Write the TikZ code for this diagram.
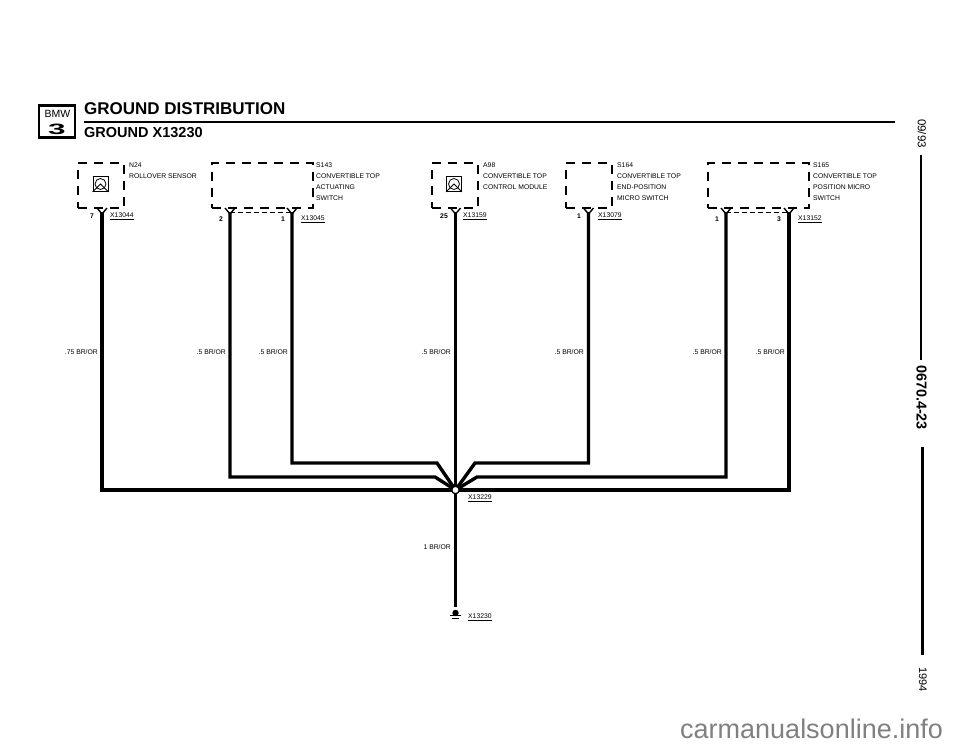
\documentclass[tikz,border=0pt]{standalone}
\usepackage{fontspec}
\setmainfont{Liberation Sans}
\tikzset{
	wire/.style={line width=3.4pt, line join=miter},
	thinwire/.style={line width=.8pt, dash pattern=on 5pt off 3pt},
	compbox/.style={draw, line width=1.6pt, dash pattern=on 9pt off 7pt, inner sep=0pt},
	lab/.style={anchor=west, inner sep=0pt, font=\fontsize{6.8}{8}\selectfont},
	gauge/.style={anchor=east, inner sep=0pt, font=\fontsize{6.8}{8}\selectfont},
	pinno/.style={inner sep=0pt, font=\fontsize{6.8}{8}\bfseries\selectfont},
	pinmark/.pic={\draw[line width=1.4pt] (-5,-4) -- (0,2) -- (5,-4);}
}
\begin{document}
\begin{tikzpicture}[x=1pt, y=-1pt]
	
	\useasboundingbox (0,0) rectangle (960,744);
	
	% header
	\node [draw, line width=2.6pt, minimum width=36pt, minimum height=32pt, inner sep=0pt] (logo) at (57,121.5) {};
	\node [inner sep=0pt, font=\fontsize{10.5}{10}\selectfont] (bmw) at (57.5,113.5) {BMW};
	\node [inner sep=0pt, xscale=2.1, font=\fontsize{15}{15}\bfseries\selectfont] (series) at (57,129.5) {3};
	\node [anchor=west, inner sep=0pt, font=\fontsize{17}{17}\bfseries\selectfont] (title) at (84,109) {GROUND DISTRIBUTION};
	\node [anchor=west, inner sep=0pt, font=\fontsize{14.5}{14}\bfseries\selectfont] (subtitle) at (84,133) {GROUND X13230};
	\coordinate (rulea) at (84,122);
	\coordinate (ruleb) at (895,122);
	\draw [line width=2.6pt] (rulea) -- (ruleb);
	
	% components
	\node [compbox, minimum width=46pt, minimum height=45pt] (n24) at (101,185.5) {};
	\node [compbox, minimum width=101pt, minimum height=45pt] (s143) at (262.5,185.5) {};
	\node [compbox, minimum width=46pt, minimum height=45pt] (a98) at (455,185.5) {};
	\node [compbox, minimum width=46pt, minimum height=45pt] (s164) at (589,185.5) {};
	\node [compbox, minimum width=101pt, minimum height=45pt] (s165) at (758.5,185.5) {};
	
	\node [draw, line width=.8pt, minimum size=15pt, inner sep=0pt] (icona) at (100.5,184) {};
	\draw [line width=.8pt] (icona) circle (5.5pt);
	\draw [line width=.8pt] (icona.south west) -- (icona.center) -- (icona.south east);
	\node [draw, line width=.8pt, minimum size=15pt, inner sep=0pt] (iconb) at (454,184) {};
	\draw [line width=.8pt] (iconb) circle (5.5pt);
	\draw [line width=.8pt] (iconb.south west) -- (iconb.center) -- (iconb.south east);
	
	\node [lab] (n24a) at (129,165.5) {N24};
	\node [lab] (n24b) at (129,176) {ROLLOVER SENSOR};
	
	\node [lab] (s143a) at (316,165.5) {S143};
	\node [lab] (s143b) at (316,176) {CONVERTIBLE TOP};
	\node [lab] (s143c) at (316,187) {ACTUATING};
	\node [lab] (s143d) at (316,198) {SWITCH};
	
	\node [lab] (a98a) at (483,165.5) {A98};
	\node [lab] (a98b) at (483,176) {CONVERTIBLE TOP};
	\node [lab] (a98c) at (483,187) {CONTROL MODULE};
	
	\node [lab] (s164a) at (617,165.5) {S164};
	\node [lab] (s164b) at (617,176) {CONVERTIBLE TOP};
	\node [lab] (s164c) at (617,187) {END-POSITION};
	\node [lab] (s164d) at (617,198) {MICRO SWITCH};
	
	\node [lab] (s165a) at (813,165.5) {S165};
	\node [lab] (s165b) at (813,176) {CONVERTIBLE TOP};
	\node [lab] (s165c) at (813,187) {POSITION MICRO};
	\node [lab] (s165d) at (813,198) {SWITCH};
	
	% pins
	\coordinate (pa) at (102,212);
	\coordinate (pb) at (230,212);
	\coordinate (pc) at (292,212);
	\coordinate (pd) at (455.5,212);
	\coordinate (pe) at (588.5,212);
	\coordinate (pf) at (726,212);
	\coordinate (pg) at (789,212);
	
	\pic at (pa) {pinmark};
	\pic at (pb) {pinmark};
	\pic at (pc) {pinmark};
	\pic at (pd) {pinmark};
	\pic at (pe) {pinmark};
	\pic at (pf) {pinmark};
	\pic at (pg) {pinmark};
	
	\draw [thinwire] (pb) -- (pc);
	\draw [thinwire] (pf) -- (pg);
	
	\node [pinno] (na) at (92,216) {7};
	\node [pinno] (nb) at (221,219) {2};
	\node [pinno] (nc) at (283,219) {1};
	\node [pinno] (nd) at (444,216) {25};
	\node [pinno] (ne) at (579,216) {1};
	\node [pinno] (nf) at (717,219) {1};
	\node [pinno] (ng) at (779,219) {3};
	
	\node [lab] (xa) at (110,216) {\underline{X13044}};
	\node [lab] (xb) at (301,219) {\underline{X13045}};
	\node [lab] (xc) at (463,216) {\underline{X13159}};
	\node [lab] (xd) at (598,216) {\underline{X13079}};
	\node [lab] (xe) at (798,219.5) {\underline{X13152}};
	
	% wires
	\coordinate (bb) at (435,477);
	\coordinate (bc) at (437,463);
	\coordinate (be) at (475,463);
	\coordinate (bf) at (477,477);
	\coordinate (jc) at (455.5,490);
	
	\draw [wire] (pa) |- (jc);
	\draw [wire] (pb) |- (bb) -- (jc);
	\draw [wire] (pc) |- (bc) -- (jc);
	\draw [wire] (pd) -- (jc);
	\draw [wire] (pe) |- (be) -- (jc);
	\draw [wire] (pf) |- (bf) -- (jc);
	\draw [wire] (pg) |- (jc);
	
	\node [circle, draw, fill=white, line width=1.3pt, minimum size=7.5pt, inner sep=0pt] (jct) at (jc) {};
	
	\node [circle, inner sep=0pt, minimum size=1pt] (gnd) at (455.5,608) {};
	\draw [wire] (jct.south) -- (gnd);
	\fill (455.5,613) circle (3.2pt);
	\draw [line width=.8pt] (450,615.5) -- (461,615.5);
	\draw [line width=.8pt] (452,618.5) -- (459,618.5);
	
	\node [lab] (xf) at (468,498) {\underline{X13229}};
	\node [lab] (xg) at (468,617) {\underline{X13230}};
	
	% wire colours
	\node [gauge] (ga) at (98,352) {.75 BR/OR};
	\node [gauge] (gb) at (226,352) {.5 BR/OR};
	\node [gauge] (gc) at (288,352) {.5 BR/OR};
	\node [gauge] (gd) at (451,352) {.5 BR/OR};
	\node [gauge] (ge) at (584,352) {.5 BR/OR};
	\node [gauge] (gf) at (722,352) {.5 BR/OR};
	\node [gauge] (gg) at (785,352) {.5 BR/OR};
	\node [gauge] (gh) at (451,547) {1 BR/OR};
	
	% margin
	\node [rotate=-90, inner sep=0pt, font=\fontsize{11.5}{11}\selectfont] (date) at (922,133.5) {09/93};
	\node [rotate=-90, inner sep=0pt, font=\fontsize{14.4}{14}\bfseries\selectfont] (page) at (921.5,397.5) {0670.4-23};
	\node [rotate=-90, inner sep=0pt, font=\fontsize{11}{11}\selectfont] (year) at (923,679.5) {1994};
	\coordinate (ma) at (921,155);
	\coordinate (mb) at (921,360);
	\coordinate (mc) at (922.5,447);
	\coordinate (md) at (922.5,655);
	\draw [line width=2.2pt] (ma) -- (mb);
	\draw [line width=2.2pt] (mc) -- (md);
	
	\node [anchor=west, inner sep=0pt, text=black!50, font=\fontsize{27}{27}\selectfont] (site) at (680,729) {carmanualsonline.info};
	
\end{tikzpicture}
\end{document}
